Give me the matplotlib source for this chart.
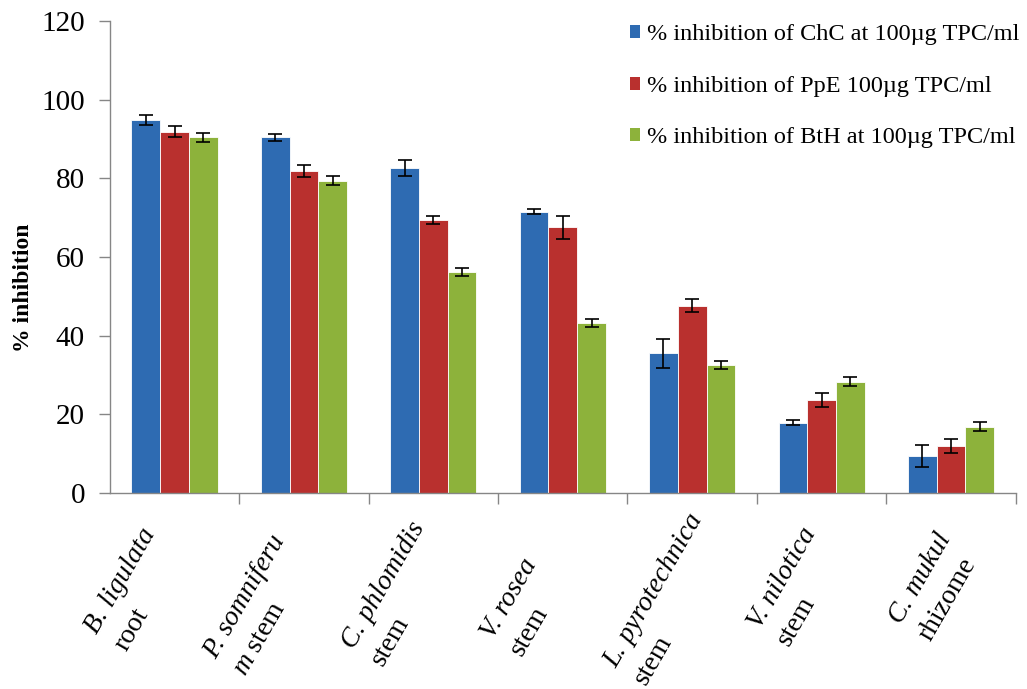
import numpy as np
import matplotlib as mpl
import matplotlib.pyplot as plt
from matplotlib.patches import Patch

mpl.rcParams.update({
    "font.family": "Liberation Serif",
    "mathtext.fontset": "custom",
    "mathtext.rm": "Liberation Serif",
    "mathtext.it": "Liberation Serif:italic",
})

# data
species = ["B. ligulata", "P. somniferu", "C. phlomidis", "V. rosea",
           "L. pyrotechnica", "V. nilotica", "C. mukul"]
parts = ["root", r"$\mathit{m}$ stem", "stem", "stem", "stem", "stem", "rhizome"]
series_names = [
    "% inhibition of ChC at 100µg TPC/ml",
    "% inhibition of PpE 100µg TPC/ml",
    "% inhibition of BtH at 100µg TPC/ml",
]
chc = [94.8, 90.4, 82.6, 71.5, 35.5, 17.9, 9.3]
chc_err = [1.3, 0.8, 2.0, 0.6, 3.6, 0.55, 2.8]
ppe = [91.9, 81.9, 69.4, 67.5, 47.6, 23.6, 11.9]
ppe_err = [1.5, 1.5, 1.0, 2.9, 1.7, 1.8, 1.8]
bth = [90.4, 79.4, 56.1, 43.3, 32.5, 28.3, 16.9]
bth_err = [1.1, 1.1, 1.0, 1.0, 1.0, 1.1, 1.1]

colors = ["#2E6BB2", "#B9302E", "#8DB23B"]

W, H = 1027, 689
fig = plt.figure(figsize=(W / 100, H / 100), dpi=100)
ax = fig.add_axes([0.107, 0.2845, 0.882, 0.685])

x = np.arange(len(species))
w = 0.222
for i, (vals, errs) in enumerate([(chc, chc_err), (ppe, ppe_err), (bth, bth_err)]):
    ax.bar(x + (i - 1) * w, vals, w, color=colors[i], edgecolor="white",
           linewidth=0.6, label=series_names[i])
    ax.errorbar(x + (i - 1) * w, vals, yerr=errs, fmt="none", ecolor="black",
                elinewidth=1.2, capsize=5, capthick=1.2)

ax.set_xlim(-0.5, len(species) - 0.5)
ax.set_ylim(0, 120)
ax.set_yticks(range(0, 121, 20))
ax.tick_params(axis="y", length=8, width=1, color="#868686", pad=10, labelsize=21)
ax.set_xticks(np.arange(0.5, len(species), 1))
ax.set_xticklabels([])
ax.tick_params(axis="x", length=8, width=1, color="#868686")
for s in ["top", "right"]:
    ax.spines[s].set_visible(False)
for s in ["left", "bottom"]:
    ax.spines[s].set_color("#868686")
    ax.spines[s].set_linewidth(1)

ax.set_ylabel("% inhibition", fontsize=17, fontweight="bold")
ax.yaxis.set_label_coords(-0.084, 0.434)

# rotated category labels: baseline-left of first line, px offset from category centre
label_pos = [(-78, 635), (-88, 660), (-80, 650), (-70, 640),
             (-76, 669), (-62, 630), (-50, 625)]
ang = np.deg2rad(60)
ls = 34  # line spacing in px
for i in range(len(species)):
    xc = ax.transData.transform((x[i], 0))[0]
    px = xc + label_pos[i][0]
    py = H - label_pos[i][1]
    fig.text(px / W, py / H, species[i], rotation=60, rotation_mode="anchor",
             ha="left", va="baseline", fontsize=20, style="italic")
    px2 = px + ls * np.sin(ang)
    py2 = py - ls * np.cos(ang)
    fig.text(px2 / W, py2 / H, parts[i], rotation=60, rotation_mode="anchor",
             ha="left", va="baseline", fontsize=20)

handles = [Patch(facecolor=c, edgecolor="none") for c in colors]
fig.legend(handles, series_names, loc="upper left",
           bbox_to_anchor=(0.613, 0.965), frameon=False, fontsize=17.5,
           handlelength=0.45, handleheight=0.45, handletextpad=0.25,
           labelspacing=1.26, borderpad=0, borderaxespad=0)

fig.savefig("out.png", dpi=100)
